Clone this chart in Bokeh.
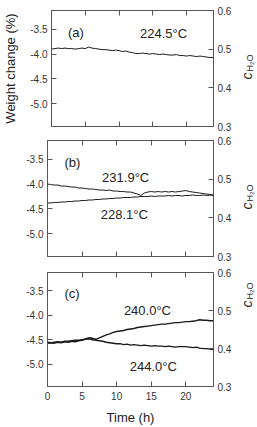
import math
from bokeh.plotting import figure
from bokeh.models import LinearAxis, Range1d, FixedTicker, Label, NumeralTickFormatter
from bokeh.layouts import column, row
from bokeh.embed import file_html
from bokeh.resources import INLINE

# ---------------- data ----------------
time_h = [i * 0.5 for i in range(49)]

w_224_5 = [-3.90, -3.89, -3.88, -3.89, -3.88, -3.89, -3.89, -3.90, -3.89, -3.88,
           -3.89, -3.86, -3.88, -3.89, -3.90, -3.91, -3.91, -3.92, -3.93, -3.92,
           -3.93, -3.95, -3.94, -3.96, -3.97, -3.99, -3.99, -3.98, -3.99, -4.00,
           -3.99, -4.00, -4.01, -4.00, -4.01, -4.02, -4.02, -4.01, -4.03, -4.03,
           -4.04, -4.03, -4.04, -4.05, -4.04, -4.05, -4.06, -4.07, -4.07]

w_231_9 = [-4.00, -4.01, -4.02, -4.02, -4.04, -4.04, -4.05, -4.06, -4.06, -4.08,
           -4.08, -4.09, -4.10, -4.10, -4.11, -4.12, -4.12, -4.13, -4.12, -4.14,
           -4.14, -4.15, -4.15, -4.16, -4.16, -4.18, -4.20, -4.23, -4.18, -4.16,
           -4.15, -4.16, -4.15, -4.16, -4.15, -4.16, -4.15, -4.16, -4.15, -4.14,
           -4.13, -4.15, -4.16, -4.17, -4.18, -4.19, -4.20, -4.21, -4.22]

w_228_1 = [-4.38, -4.38, -4.37, -4.37, -4.36, -4.36, -4.35, -4.35, -4.34, -4.34,
           -4.33, -4.33, -4.32, -4.32, -4.31, -4.31, -4.30, -4.30, -4.29, -4.29,
           -4.28, -4.28, -4.27, -4.27, -4.27, -4.26, -4.26, -4.25, -4.25, -4.25,
           -4.24, -4.25, -4.24, -4.24, -4.24, -4.23, -4.24, -4.23, -4.23, -4.24,
           -4.23, -4.23, -4.22, -4.23, -4.23, -4.22, -4.23, -4.22, -4.23]

w_240_0 = [-4.57, -4.56, -4.57, -4.55, -4.56, -4.54, -4.55, -4.53, -4.54, -4.52,
           -4.51, -4.48, -4.46, -4.47, -4.49, -4.46, -4.43, -4.40, -4.38, -4.35,
           -4.33, -4.32, -4.31, -4.29, -4.28, -4.27, -4.25, -4.24, -4.23, -4.22,
           -4.21, -4.20, -4.19, -4.18, -4.18, -4.17, -4.16, -4.15, -4.15, -4.14,
           -4.13, -4.13, -4.12, -4.11, -4.09, -4.10, -4.10, -4.11, -4.11]

w_244_0 = [-4.55, -4.56, -4.55, -4.54, -4.55, -4.53, -4.53, -4.52, -4.51, -4.51,
           -4.50, -4.49, -4.48, -4.50, -4.51, -4.52, -4.53, -4.55, -4.56, -4.57,
           -4.58, -4.58, -4.60, -4.59, -4.61, -4.60, -4.61, -4.62, -4.61, -4.62,
           -4.63, -4.62, -4.63, -4.63, -4.64, -4.63, -4.64, -4.65, -4.64, -4.64,
           -4.64, -4.65, -4.66, -4.65, -4.67, -4.68, -4.68, -4.69, -4.70]

x_ticks = [0, 5, 10, 15, 20]
left_ticks = [-3.5, -4.0, -4.5, -5.0]
right_ticks = [0.3, 0.4, 0.5, 0.6]

panel_letters = ["(a)", "(b)", "(c)"]

FONT = "Liberation Sans"
AXC = "#555555"
TXC = "#333333"

X0, X1 = 0, 24
Y0, Y1 = -5.455, -3.125
C0, C1 = 0.3, 0.6

PANEL_W = 235
SIDE_W = 257 - PANEL_W


def make_panel(height, btop, bbottom, letter, series, notes, bottom_labels=False, ylabel=None):
    p = figure(width=PANEL_W, height=height, output_backend="svg", toolbar_location=None,
               x_range=Range1d(X0, X1), y_range=Range1d(Y0, Y1),
               min_border_left=47, min_border_right=PANEL_W - 213, min_border_top=btop,
               min_border_bottom=bbottom)
    p.extra_y_ranges = {"c": Range1d(C0, C1)}
    p.grid.visible = False
    p.outline_line_color = AXC
    p.outline_line_width = 1
    p.background_fill_color = "white"
    p.border_fill_color = "white"

    # bottom axis
    xa = p.xaxis[0]
    xa.ticker = FixedTicker(ticks=x_ticks)
    xa.major_tick_in = 5
    xa.major_tick_out = 0
    xa.minor_tick_line_color = None
    xa.axis_line_color = AXC
    xa.major_tick_line_color = AXC
    xa.major_label_text_font = FONT
    if bottom_labels:
        xa.major_label_text_color = TXC
        xa.major_label_text_font_size = "10px"
        xa.major_label_standoff = 5
        xa.axis_label = "Time (h)"
        xa.axis_label_text_font = FONT
        xa.axis_label_text_font_size = "13px"
        xa.axis_label_text_font_style = "normal"
        xa.axis_label_text_color = "#222222"
        xa.axis_label_standoff = 7
    else:
        xa.major_label_text_color = None
        xa.major_label_text_font_size = "0px"
        xa.major_label_standoff = 0

    # top axis (ticks only)
    ta = LinearAxis(ticker=FixedTicker(ticks=x_ticks), major_tick_in=5, major_tick_out=0,
                    minor_tick_line_color=None, axis_line_color=AXC,
                    major_tick_line_color=AXC, major_label_text_font_size="0px",
                    major_label_text_color=None, major_label_standoff=0)
    p.add_layout(ta, "above")

    # left axis
    ya = p.yaxis[0]
    ya.ticker = FixedTicker(ticks=left_ticks)
    ya.formatter = NumeralTickFormatter(format="0.0")
    ya.major_tick_in = 5
    ya.major_tick_out = 0
    ya.minor_tick_line_color = None
    ya.axis_line_color = AXC
    ya.major_tick_line_color = AXC
    ya.major_label_text_font = FONT
    ya.major_label_text_font_size = "10px"
    ya.major_label_text_color = TXC
    ya.major_label_standoff = 4
    if ylabel:
        ya.axis_label = ylabel
        ya.axis_label_text_font = FONT
        ya.axis_label_text_font_size = "13px"
        ya.axis_label_text_font_style = "normal"
        ya.axis_label_text_color = "#222222"
        ya.axis_label_standoff = 9

    # right axis
    ra = LinearAxis(y_range_name="c", ticker=FixedTicker(ticks=right_ticks),
                    formatter=NumeralTickFormatter(format="0.0"),
                    major_tick_in=5, major_tick_out=0, minor_tick_line_color=None,
                    axis_line_color=AXC, major_tick_line_color=AXC,
                    major_label_text_font=FONT, major_label_text_font_size="10px",
                    major_label_text_color=TXC, major_label_standoff=4)
    p.add_layout(ra, "right")

    for ys, lw in series:
        p.line(time_h, ys, line_color="#1a1a1a", line_width=lw)

    p.add_layout(Label(x=2.45, y=-3.56, text=letter, text_font=FONT, text_font_size="13px",
                       text_color="#222222", text_align="left", text_baseline="middle"))
    for (tx, ty, txt) in notes:
        p.add_layout(Label(x=tx, y=ty, text=txt, text_font=FONT, text_font_size="13px",
                           text_color="#222222", text_align="center", text_baseline="middle"))

    # narrow side strip that carries the right-hand label c_{H2O}
    s = figure(width=SIDE_W, height=height, output_backend="svg", toolbar_location=None,
               x_axis_type=None, y_axis_type=None,
               x_range=Range1d(0, 1), y_range=Range1d(0, 1),
               min_border_left=0, min_border_right=0, min_border_top=0, min_border_bottom=0)
    s.grid.visible = False
    s.outline_line_color = None
    s.background_fill_color = "white"
    s.border_fill_color = "white"
    s.add_layout(Label(x=11, y=bbottom + 40, x_units="screen", y_units="screen", text="c",
                       text_font=FONT, text_font_size="14px",
                       text_font_style="italic", text_color="#222222", angle=math.pi / 2,
                       text_align="left", text_baseline="alphabetic"))
    s.add_layout(Label(x=14, y=bbottom + 48, x_units="screen", y_units="screen", text="H\u2082O",
                       text_font=FONT, text_font_size="9px",
                       text_color="#222222", angle=math.pi / 2,
                       text_align="left", text_baseline="alphabetic"))
    return row(p, s, spacing=0)


pa = make_panel(133, 10, 7, panel_letters[0], [(w_224_5, 1)],
                [(16.6, -3.58, "224.5\u00b0C")], ylabel="Weight change (%)")
pb = make_panel(130, 7, 7, panel_letters[1], [(w_231_9, 1), (w_228_1, 1)],
                [(11.3, -3.86, "231.9\u00b0C"), (11.1, -4.62, "228.1\u00b0C")])
pc = make_panel(164, 9, 39, panel_letters[2], [(w_240_0, 1.4), (w_244_0, 1.4)],
                [(14.45, -3.90, "240.0\u00b0C"), (15.3, -5.04, "244.0\u00b0C")],
                bottom_labels=True)

layout = column(pa, pb, pc, spacing=0)
open("out.html", "w").write(file_html(layout, INLINE))
